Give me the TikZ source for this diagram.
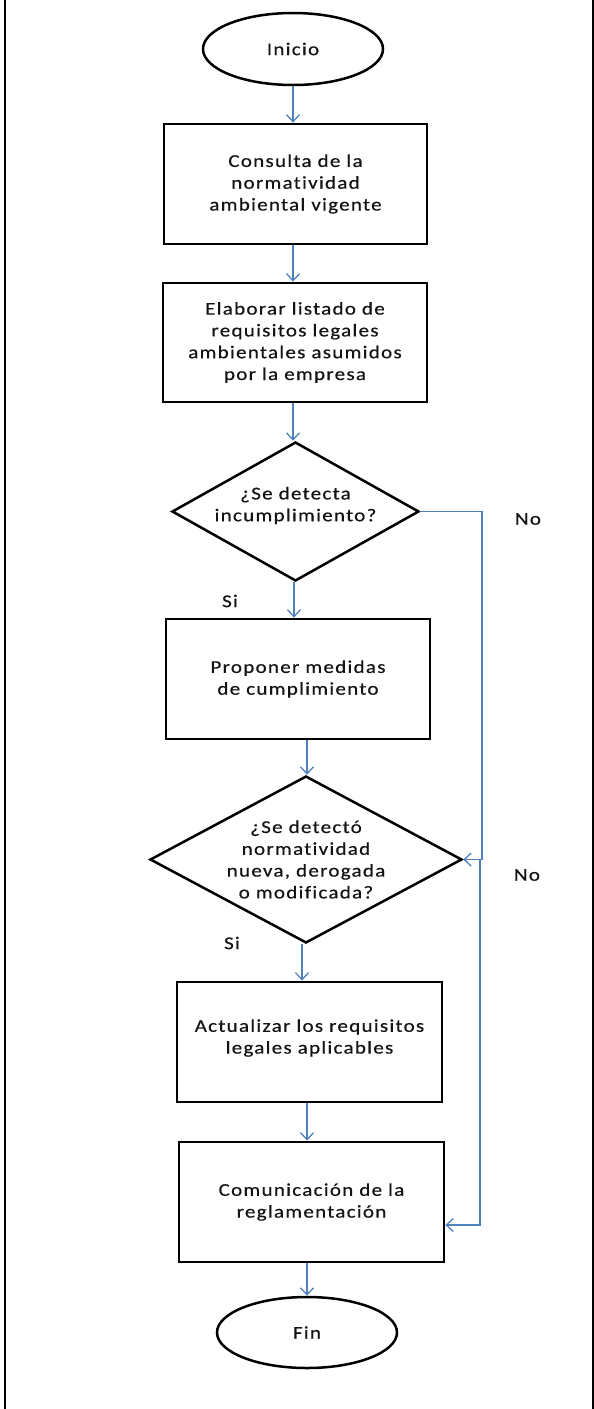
\documentclass[tikz,border=0pt]{standalone}
\usepackage{fontspec}
\setmainfont{Carlito}[FakeStretch=1.17,LetterSpace=7,Ligatures=NoCommon,FakeBold=0.5]
\usetikzlibrary{shapes.geometric,arrows.meta,calc}
\definecolor{flowblue}{HTML}{4F81BD}
\begin{document}
\begin{tikzpicture}[x=1pt,y=-1pt,
  every node/.style={font=\fontsize{18}{21.8}\selectfont, text=black!92},
  term/.style={ellipse, draw, line width=2.5pt, inner sep=0pt},
  procbox/.style={rectangle, draw, line width=2.8pt, align=center, inner sep=0pt},
  decision/.style={diamond, draw, line width=2.5pt, inner sep=0pt},
  link/.style={draw=flowblue, line width=1.3pt},
  arr/.style={link, -{Straight Barb[length=7pt,width=13pt,line width=1.3pt]}},
  lbl/.style={inner sep=0pt}
]
\useasboundingbox (0,0) rectangle (594,1409);
\draw[line width=2pt] (5,0) -- (5,1409);
\draw[line width=2pt] (593,0) -- (593,1409);

\node[term, minimum width=180pt, minimum height=72pt] (ini) at (293,49) {Inicio};
\node[procbox, minimum width=263pt, minimum height=120pt] (b1) at (295.5,184) {Consulta de la\\normatividad\\ambiental vigente};
\node[procbox, minimum width=264pt, minimum height=119pt] (b2) at (295,342.5) {Elaborar listado de\\requisitos legales\\ambientales asumidos\\por la empresa};
\node[decision, minimum width=247pt, minimum height=139pt,
  label={[align=center,inner sep=0pt,yshift=6pt]center:¿Se detecta\\incumplimiento?}] (d1) at (295.5,511.5) {};
\node[procbox, minimum width=264pt, minimum height=120pt] (b3) at (298,679) {Proponer medidas\\de cumplimiento};
\node[decision, minimum width=312pt, minimum height=167pt,
  label={[align=center,inner sep=0pt]center:¿Se detectó\\normatividad\\nueva, derogada\\o modificada?}] (d2) at (306,859.5) {};
\node[procbox, minimum width=265pt, minimum height=120pt,
  label={[align=center,inner sep=0pt,yshift=4pt]center:Actualizar los requisitos\\legales aplicables}] (b4) at (309.5,1042) {};
\node[procbox, minimum width=265pt, minimum height=120pt] (b5) at (311.5,1202) {Comunicación de la\\reglamentación};
\node[term, minimum width=180pt, minimum height=71pt] (fin) at (307,1332.5) {Fin};

\node[lbl] (si1) at (230,601) {Si};
\node[lbl] (no1) at (528,519) {No};
\node[lbl] (si2) at (232,943) {Si};
\node[lbl] (no2) at (527,875) {No};

\coordinate (rx) at (482,0);
\coordinate (rx2) at (480,0);

\draw[arr] (ini.south) -- (ini.south |- b1.north);
\draw[arr] (b1.south -| ini.south) -- (ini.south |- b2.north);
\draw[arr] (b2.south -| ini.south) -- (ini.south |- d1.north);
\draw[arr] ($(d1.south)+(-1.5,0)$) -- ($(d1.south |- b3.north)+(-1.5,0)$);
\draw[arr] ($(b3.south -| d2.north)+(1,0)$) -- ($(d2.north)+(1,0)$);
\draw[arr] ($(d2.south)+(-4,0)$) -- ($(d2.south |- b4.north)+(-4,0)$);
\draw[arr] (b4.south -| fin.north) -- (fin.north |- b5.north);
\draw[arr] (b5.south -| fin.north) -- (fin.north);

\draw[arr] (d1.east) -| (rx |- d2.east) -- (d2.east);
\draw[arr] (rx2 |- d2.east) -- ($(rx2 |- b5.east)+(0,23)$) -- ($(b5.east)+(0,23)$);
\end{tikzpicture}
\end{document}
